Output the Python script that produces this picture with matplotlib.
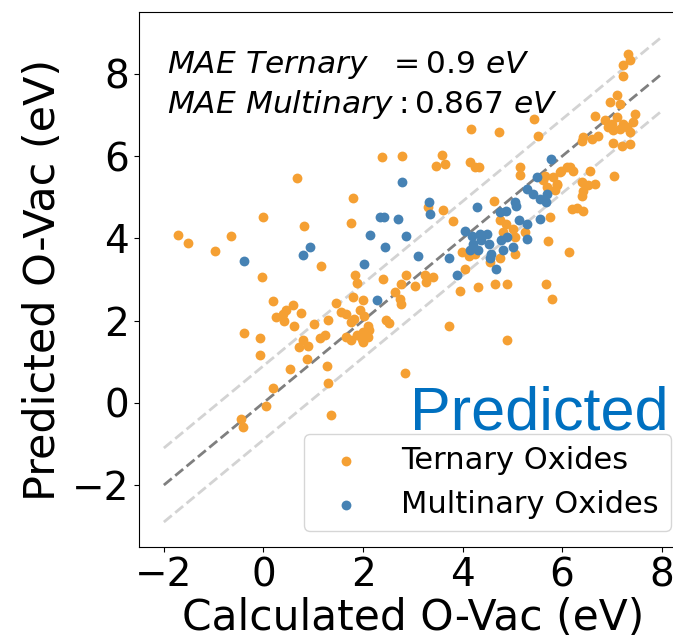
import matplotlib
matplotlib.use("Agg")
import matplotlib.pyplot as plt

# Ternary oxides: calculated vs predicted O-vacancy energies (eV)
ternary_calc = [
    2.39, 2.78, 0.68, 1.80, 0.00, 0.82, 1.75, -1.72, -1.52, -0.97, -0.65, 1.16,
    7.32, 7.36, 7.22, 7.23, 7.11, 6.96, 7.16, 7.46, 7.43, 6.66, 6.86, 7.00,
    7.10, 7.23, 7.03, 7.16, 7.30, 6.93, 7.36, 6.73, 6.59, 6.42, 6.39, 7.03,
    7.20, 7.36, 5.44, 5.51, 4.16, 4.73, 3.58, 3.46, 3.64, 4.14, 4.24, 4.33,
    5.15, 5.15, 5.62, 5.82, 5.89, 6.09, 6.22, 5.96, 5.69, 5.86, 6.56, 6.39,
    6.51, 6.66, 6.41, 6.39, 7.05, 6.19, 6.29, 6.42, 4.63, 3.60, 3.31, 3.81,
    4.75, 4.88, 5.02, 4.81, 5.05, 5.25, 5.75, 5.72, 6.14, 3.98, 4.25, 5.05,
    4.75, 4.12, 5.66, 5.98, 6.15, 5.90,
    -0.03, 1.83, 1.87, 2.40, 2.87, 2.64, 2.74, 2.76, 0.20, 0.59, 0.46, 0.39,
    0.25, 0.42, 0.76, 0.62, 1.46, 1.80, 2.00, 1.56, 1.66, 1.82, 1.93, 2.03,
    1.76, 2.10, 2.13, 2.00, 1.87, 1.97, 2.10, 1.66, 1.76, 2.00, -0.40, -0.06,
    -0.06, 1.01, 1.29, 1.13, 1.23, 0.79, 0.72, 0.89, 0.88, 0.54, 1.27, 1.30,
    0.20, 0.06, -0.45, -0.42, 1.35, 2.47, 2.53, 2.84,
    4.04, 4.55, 3.04, 3.24, 3.41, 3.27, 2.77, 3.94, 4.31, 4.66, 4.90, 5.67,
    5.80, 3.72, 4.90,
]
ternary_pred = [
    5.98, 6.01, 5.47, 4.99, 4.52, 4.31, 4.37, 4.09, 3.89, 3.69, 4.05, 3.34,
    8.49, 8.35, 8.21, 7.94, 7.50, 7.31, 7.27, 7.03, 6.83, 6.97, 6.87, 6.79,
    6.95, 6.79, 6.63, 6.67, 6.71, 6.71, 6.58, 6.50, 6.42, 6.46, 6.38, 6.32,
    6.24, 6.30, 6.90, 6.50, 6.67, 6.58, 6.02, 5.77, 5.80, 5.85, 5.73, 5.73,
    5.73, 5.55, 5.41, 5.49, 5.33, 5.73, 5.65, 5.61, 5.25, 5.17, 5.65, 5.37,
    5.31, 5.33, 5.15, 5.02, 5.53, 4.72, 4.74, 4.66, 4.92, 4.68, 4.76, 4.42,
    4.44, 4.34, 4.23, 4.15, 4.03, 4.15, 4.52, 3.93, 3.66, 3.66, 3.63, 3.62,
    3.53, 3.58, 5.53, 5.65, 5.73, 5.29,
    3.06, 3.10, 2.91, 3.02, 3.12, 2.69, 2.53, 2.41, 2.47, 2.37, 2.26, 2.17,
    2.08, 2.00, 2.19, 1.86, 2.44, 2.57, 2.50, 2.20, 2.17, 2.04, 2.25, 2.12,
    1.96, 1.88, 1.76, 1.72, 1.64, 1.56, 1.60, 1.60, 1.52, 1.47, 1.69, 1.57,
    1.17, 1.92, 2.02, 1.57, 1.64, 1.52, 1.37, 1.39, 1.07, 0.83, 0.89, 0.49,
    0.36, -0.07, -0.40, -0.58, -0.29, 2.02, 1.95, 0.72,
    3.26, 3.42, 2.85, 3.10, 3.07, 2.93, 2.90, 2.73, 2.81, 2.88, 2.88, 2.88,
    2.53, 1.88, 1.52,
]

# Multinary oxides
multinary_calc = [
    2.78, 2.34, 2.43, 2.70, 2.15, 2.87, 2.45, 0.93, 0.79, -0.40, 2.02,
    5.77, 5.49, 5.29, 5.42, 5.55, 5.69, 5.67, 5.05, 5.08, 4.75, 4.88, 4.28,
    3.33, 3.35, 3.10, 5.14, 5.29, 5.30, 5.55, 4.04, 4.18, 4.35, 4.49, 4.21,
    4.38, 4.14, 4.31, 4.53, 4.78, 4.90, 4.81, 5.02, 4.58, 3.73, 4.56,
    2.29, 3.88, 4.68,
]
multinary_pred = [
    5.37, 4.52, 4.53, 4.48, 4.09, 4.05, 3.80, 3.80, 3.60, 3.45, 3.38,
    5.94, 5.49, 5.21, 5.09, 4.96, 5.09, 4.88, 4.88, 4.80, 4.64, 4.66, 4.76,
    4.88, 4.60, 3.58, 4.45, 4.36, 3.99, 4.48, 4.19, 4.07, 4.11, 4.11, 3.87,
    3.95, 3.71, 3.71, 3.87, 3.95, 4.03, 3.71, 3.79, 3.62, 3.53, 3.53,
    2.51, 3.10, 3.26,
]

mae_ternary = 0.9
mae_multinary = 0.867
line_range = [-2, 8]

fig = plt.figure(figsize=(6.73, 6.38), dpi=100)
ax = fig.add_axes([0.2065, 0.1431, 0.8137, 0.8376])

orange = "#F5A033"
blue = "#4682B4"

ax.plot(line_range, [v + mae_ternary for v in line_range], "--", color="#d3d3d3", lw=2, zorder=1)
ax.plot(line_range, [v - mae_ternary for v in line_range], "--", color="#d3d3d3", lw=2, zorder=1)
ax.plot(line_range, line_range, "--", color="#7f7f7f", lw=2, zorder=1)

ax.scatter(ternary_calc, ternary_pred, s=50, color=orange, linewidths=0,
           label="Ternary Oxides", zorder=2)
ax.scatter(multinary_calc, multinary_pred, s=50, color=blue, linewidths=0,
           label="Multinary Oxides", zorder=3)

ax.set_xlim(-2.5, 8.5)
ax.set_ylim(-3.5, 9.5)
ax.set_xticks([-2, 0, 2, 4, 6, 8])
ax.set_yticks([-2, 0, 2, 4, 6, 8])
ax.tick_params(labelsize=28)
ax.set_xlabel("Calculated O-Vac (eV)", fontsize=30.5, labelpad=2)
ax.set_ylabel("Predicted O-Vac (eV)", fontsize=31, labelpad=6)

ax.text(0.0506, 0.886, r"$MAE\ Ternary\ \ =0.9\ eV$", transform=ax.transAxes,
        fontsize=22.5, va="baseline", ha="left")
ax.text(0.0506, 0.811, r"$MAE\ Multinary:0.867\ eV$", transform=ax.transAxes,
        fontsize=22.5, va="baseline", ha="left")

ax.legend(loc="lower right", fontsize=22)

fig.text(410 / 673, 1 - 430 / 638, "Predicted", color="#0070C0",
         fontsize=44, family="Liberation Sans", va="baseline", ha="left")

fig.savefig("out.png", dpi=100)
